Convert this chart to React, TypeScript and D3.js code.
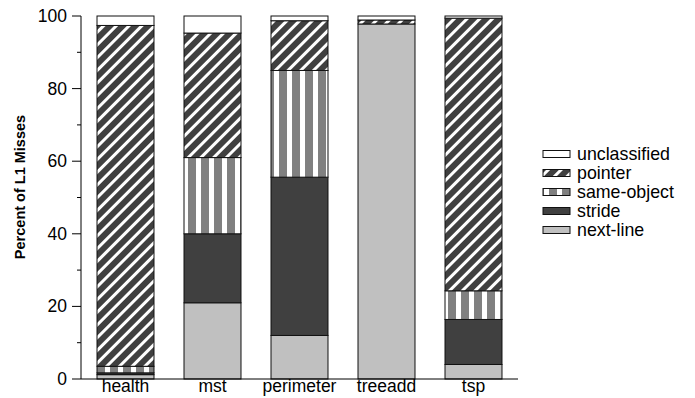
import React from 'react';
import * as d3 from 'd3';

// benchmark programs on the x axis
const categories = ['health', 'mst', 'perimeter', 'treeadd', 'tsp'];

// percent of L1 misses per class, bottom to top
const nextLine = [1.2, 21, 12, 97.8, 4.0];
const stride = [0.5, 19, 43.6, 0, 12.4];
const sameObject = [1.8, 21, 29.4, 0, 7.9];
const pointer = [93.9, 34.3, 13.7, 1.1, 75.1];
const unclassified = [2.6, 4.7, 1.3, 1.1, 0.6];

const yTicks = [0, 20, 40, 60, 80, 100];
const yMinorTicks = [10, 30, 50, 70, 90];

const keys = ['nextLine', 'stride', 'sameObject', 'pointer', 'unclassified'];
const legendLabels = {
  unclassified: 'unclassified',
  pointer: 'pointer',
  sameObject: 'same-object',
  stride: 'stride',
  nextLine: 'next-line'
};
const legendOrder = ['unclassified', 'pointer', 'sameObject', 'stride', 'nextLine'];

const fills = {
  nextLine: '#c0c0c0',
  stride: '#404040',
  sameObject: 'url(#sameObj)',
  pointer: 'url(#diag)',
  unclassified: '#ffffff'
};

const font = '"Liberation Sans", Arial, Helvetica, sans-serif';

export default function App() {
  var width = 695;
  var height = 398;
  var left = 81;
  var right = 518;
  var top = 16;
  var bottom = 379;

  var rows = categories.map((c, i) => ({
    name: c,
    nextLine: nextLine[i],
    stride: stride[i],
    sameObject: sameObject[i],
    pointer: pointer[i],
    unclassified: unclassified[i]
  }));

  var series = d3.stack().keys(keys)(rows as any);

  var x = d3.scaleBand()
    .domain(categories)
    .range([left, right])
    .paddingInner(0.345)
    .paddingOuter(0.184);

  var y = d3.scaleLinear()
    .domain([0, 100])
    .range([bottom, top]);

  var legendY = d3.scalePoint()
    .domain(legendOrder)
    .range([154, 230]);

  return (
    <svg width={width} height={height} style={{position: 'absolute', left: 0, top: 0}}
      fontFamily={font}>
      <defs>
        <pattern id="diag" patternUnits="userSpaceOnUse" width={9} height={9}
          patternTransform="rotate(45)">
          <rect width={9} height={9} fill="#404040" />
          <rect width={3} height={9} fill="#ffffff" />
        </pattern>
        <pattern id="sameObj" patternUnits="userSpaceOnUse" width={13} height={10}
          patternTransform={`translate(${x('health')}, 0)`}>
          <rect width={13} height={10} fill="#ffffff" />
          <rect width={8} height={10} fill="#808080" />
        </pattern>
      </defs>

      {series.map(s => (
        <g key={s.key}>
          {s.map((d, i) => {
            var h = y(d[0]) - y(d[1]);
            if (h <= 0) { return null; }
            return (
              <rect key={i}
                x={x(categories[i])}
                y={y(d[1])}
                width={x.bandwidth()}
                height={h}
                fill={fills[s.key]}
                stroke="#111"
                strokeWidth={1} />
            );
          })}
        </g>
      ))}

      {/* axes */}
      <line x1={left} x2={left} y1={top} y2={bottom} stroke="#000" />
      <line x1={left} x2={right} y1={bottom} y2={bottom} stroke="#000" />
      {yTicks.map(t => (
        <g key={t}>
          <line x1={left - 9} x2={left} y1={y(t)} y2={y(t)} stroke="#000" />
          <text x={left - 14} y={y(t)} textAnchor="end" dominantBaseline="central"
            fontSize={17.5} fill="#000">{t}</text>
        </g>
      ))}
      {yMinorTicks.map(t => (
        <line key={t} x1={left - 4} x2={left} y1={y(t)} y2={y(t)} stroke="#000" />
      ))}
      {categories.map(c => (
        <text key={c} x={x(c) + x.bandwidth() / 2} y={392} textAnchor="middle"
          fontSize={17.5} fill="#000">{c}</text>
      ))}
      <text transform="translate(20, 187) rotate(-90)" textAnchor="middle"
        dominantBaseline="central" fontSize={14.5} fontWeight="bold" fill="#000">
        Percent of L1 Misses
      </text>

      {/* legend */}
      {legendOrder.map(k => (
        <g key={k} transform={`translate(543, ${legendY(k)})`}>
          <rect x={0} y={-3.5} width={27} height={7} fill={fills[k]} stroke="#111" />
          <text x={34} y={0} dominantBaseline="central" fontSize={17.8} fill="#000">
            {legendLabels[k]}
          </text>
        </g>
      ))}
    </svg>
  );
}
